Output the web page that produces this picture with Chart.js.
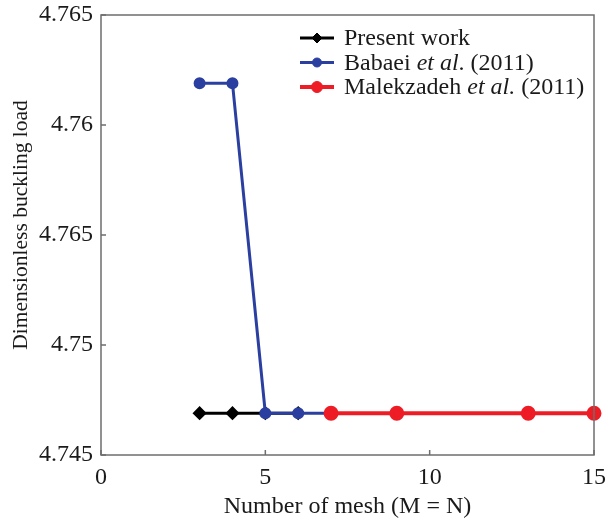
<!DOCTYPE html>
<html>
<head>
<meta charset="utf-8">
<script src="https://cdn.jsdelivr.net/npm/chart.js@4.4.1/dist/chart.umd.min.js"></script>
<style>
  html, body { margin: 0; padding: 0; background: #ffffff; }
  #wrap { width: 606px; height: 526px; }
</style>
</head>
<body>
<div id="wrap"><canvas id="c" width="606" height="526"></canvas></div>
<script>
// Mesh sizes (M = N) and dimensionless buckling loads
const presentMesh = [3, 4, 5, 6];
const presentLoad = [4.7469, 4.7469, 4.7469, 4.7469];

const babaeiMesh = [3, 4, 5, 6, 7];
const babaeiLoad = [4.7619, 4.7619, 4.7469, 4.7469, 4.7469];

const malekMesh = [7, 9, 13, 15];
const malekLoad = [4.7469, 4.7469, 4.7469, 4.7469];

const xTickLabels = ['0', '5', '10', '15'];
const yTickLabels = ['4.745', '4.75', '4.765', '4.76', '4.765'];

const FONT = '"Liberation Serif", "Times New Roman", serif';
const AXIS_GREY = '#6e6e6e';
const TEXT = '#1a1a1a';

const toPoints = (xs, ys) => xs.map((x, i) => ({ x: x, y: ys[i] }));

// Box frame and inward tick marks on the left and bottom axes
const framePlugin = {
  id: 'frame',
  afterDatasetsDraw(chart) {
    const { ctx, chartArea: a, scales } = chart;
    ctx.save();
    ctx.strokeStyle = AXIS_GREY;
    ctx.lineWidth = 1.5;
    ctx.strokeRect(a.left, a.top, a.right - a.left, a.bottom - a.top);
    ctx.beginPath();
    scales.x.ticks.forEach(t => {
      const px = scales.x.getPixelForValue(t.value);
      ctx.moveTo(px, a.bottom);
      ctx.lineTo(px, a.bottom - 5);
    });
    scales.y.ticks.forEach(t => {
      const py = scales.y.getPixelForValue(t.value);
      ctx.moveTo(a.left, py);
      ctx.lineTo(a.left + 5, py);
    });
    ctx.stroke();
    ctx.restore();
  }
};

// Axis titles
const titlesPlugin = {
  id: 'axisTitles',
  afterDraw(chart) {
    const { ctx, chartArea: a } = chart;
    ctx.save();
    ctx.fillStyle = TEXT;
    ctx.textAlign = 'center';
    ctx.textBaseline = 'middle';
    ctx.font = '24px ' + FONT;
    ctx.fillText('Number of mesh (M = N)', (a.left + a.right) / 2, 507);
    ctx.font = '21.5px ' + FONT;
    ctx.translate(21, (a.top + a.bottom) / 2 - 10);
    ctx.rotate(-Math.PI / 2);
    ctx.fillText('Dimensionless buckling load', 0, 0);
    ctx.restore();
  }
};

// Legend drawn inside the plot area, upper right
const legendPlugin = {
  id: 'insetLegend',
  afterDraw(chart) {
    const { ctx } = chart;
    const rows = [
      { ds: 0, parts: [['Present work', false]] },
      { ds: 1, parts: [['Babaei ', false], ['et al', true], ['. (2011)', false]] },
      { ds: 2, parts: [['Malekzadeh ', false], ['et al.', true], [' (2011)', false]] }
    ];
    const x0 = 300, x1 = 334, tx = 344, y0 = 38, dy = 24.5;
    ctx.save();
    rows.forEach((r, i) => {
      const ds = chart.data.datasets[r.ds];
      const y = y0 + i * dy;
      ctx.strokeStyle = ds.borderColor;
      ctx.lineWidth = ds.borderWidth;
      ctx.beginPath();
      ctx.moveTo(x0, y);
      ctx.lineTo(x1, y);
      ctx.stroke();
      ctx.fillStyle = ds.pointBackgroundColor;
      ctx.strokeStyle = ds.pointBorderColor;
      ctx.lineWidth = 1;
      ctx.beginPath();
      const rad = ds.pointRadius;
      const mx = (x0 + x1) / 2;
      if (ds.pointStyle === 'rectRot') {
        ctx.moveTo(mx - rad, y); ctx.lineTo(mx, y - rad);
        ctx.lineTo(mx + rad, y); ctx.lineTo(mx, y + rad);
        ctx.closePath();
      } else {
        ctx.arc(mx, y, rad, 0, Math.PI * 2);
      }
      ctx.fill();
      ctx.stroke();
      let cx = tx;
      ctx.fillStyle = TEXT;
      ctx.textBaseline = 'middle';
      ctx.textAlign = 'left';
      r.parts.forEach(([txt, it]) => {
        ctx.font = (it ? 'italic ' : '') + '24px ' + FONT;
        ctx.fillText(txt, cx, y + 1);
        cx += ctx.measureText(txt).width;
      });
    });
    ctx.restore();
  }
};

new Chart(document.getElementById('c'), {
  type: 'scatter',
  data: {
    datasets: [
      {
        label: 'Present work',
        data: toPoints(presentMesh, presentLoad),
        showLine: true,
        borderColor: '#000000',
        backgroundColor: '#000000',
        pointBackgroundColor: '#000000',
        pointBorderColor: '#000000',
        borderWidth: 3,
        pointStyle: 'rectRot',
        pointRadius: 5,
        clip: false,
        order: 3
      },
      {
        label: 'Babaei et al. (2011)',
        data: toPoints(babaeiMesh, babaeiLoad),
        showLine: true,
        borderColor: '#2a3fa0',
        backgroundColor: '#2a3fa0',
        pointBackgroundColor: '#2a3fa0',
        pointBorderColor: '#2a3fa0',
        borderWidth: 3,
        pointStyle: 'circle',
        pointRadius: 4.5,
        clip: false,
        order: 2
      },
      {
        label: 'Malekzadeh et al. (2011)',
        data: toPoints(malekMesh, malekLoad),
        showLine: true,
        borderColor: '#ee1c25',
        backgroundColor: '#ee1c25',
        pointBackgroundColor: '#ee1c25',
        pointBorderColor: '#ee1c25',
        borderWidth: 4,
        pointStyle: 'circle',
        pointRadius: 5.5,
        clip: false,
        order: 1
      }
    ]
  },
  options: {
    responsive: false,
    animation: false,
    layout: { padding: { top: 15, right: 12, left: 0, bottom: 0 } },
    plugins: {
      legend: { display: false },
      tooltip: { enabled: false }
    },
    scales: {
      x: {
        type: 'linear',
        min: 0,
        max: 15,
        ticks: {
          stepSize: 5,
          color: TEXT,
          font: { family: FONT, size: 24 },
          padding: 8,
          maxRotation: 0,
          callback: (v, i) => xTickLabels[i]
        },
        grid: { display: false, drawTicks: false },
        border: { display: false },
        title: { display: false },
        afterFit(scale) {
          scale.height = 71;
          scale.paddingLeft = 0;
          scale.paddingRight = 0;
        }
      },
      y: {
        type: 'linear',
        min: 4.745,
        max: 4.765,
        ticks: {
          stepSize: 0.005,
          color: TEXT,
          font: { family: FONT, size: 24 },
          padding: 8,
          callback: (v, i) => yTickLabels[i]
        },
        grid: { display: false, drawTicks: false },
        border: { display: false },
        title: { display: false },
        afterFit(scale) {
          scale.width = 101;
          scale.paddingTop = 0;
          scale.paddingBottom = 0;
        }
      }
    }
  },
  plugins: [framePlugin, titlesPlugin, legendPlugin]
});
</script>
</body>
</html>
